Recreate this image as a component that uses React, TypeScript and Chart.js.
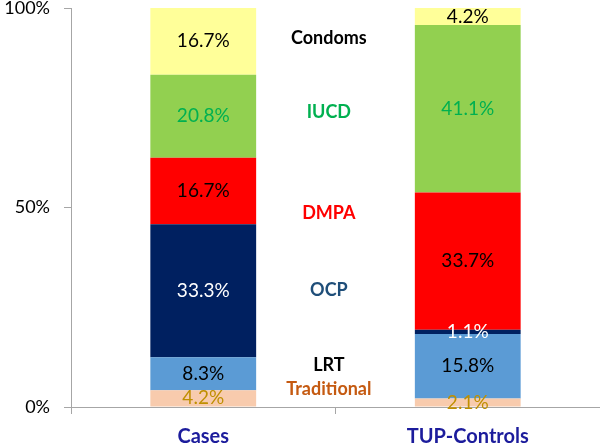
import React, { useEffect, useRef } from "react";
import { Chart, registerables } from "chart.js";

Chart.register(...registerables);

const categories = ["Cases", "TUP-Controls"];
const seriesNames = ["Traditional", "LRT", "OCP", "DMPA", "IUCD", "Condoms"];
const traditional = [4.2, 2.1];
const lrt = [8.3, 15.8];
const ocp = [33.3, 1.1];
const dmpa = [16.7, 33.7];
const iucd = [20.8, 41.1];
const condoms = [16.7, 4.2];
const yTicks = [0, 50, 100];

const seriesValues = [traditional, lrt, ocp, dmpa, iucd, condoms];
const fillColors = ["#f8cbad", "#5b9bd5", "#002060", "#ff0000", "#92d050", "#ffff99"];
const valueLabelColors = ["#bf8f00", "#000000", "#ffffff", "#000000", "#00b050", "#000000"];
const nameLabelColors = ["#c55a11", "#000000", "#1f4e79", "#ff0000", "#00b050", "#000000"];
// placement (in axis units) of the series name annotations between the bars
const nameLabelY = [4.5, 10.5, 29.3, 48.6, 73.9, 92.5];
const nameLabelX = 0.475;

const FONT = "Lato, 'Open Sans', sans-serif";

const labelsPlugin = {
  id: "segLabels",
  afterDatasetsDraw(chart: any) {
    const ctx = chart.ctx;
    ctx.save();
    ctx.textAlign = "center";
    ctx.textBaseline = "middle";
    ctx.font = `19px ${FONT}`;
    chart.data.datasets.forEach((ds: any, i: number) => {
      const meta = chart.getDatasetMeta(i);
      meta.data.forEach((el: any, j: number) => {
        const p = el.getCenterPoint();
        ctx.fillStyle = valueLabelColors[i];
        ctx.fillText(seriesValues[i][j].toFixed(1) + "%", p.x, p.y);
      });
    });
    const xs = chart.scales.x;
    const ys = chart.scales.y;
    const xMid = xs.getPixelForValue(nameLabelX);
    ctx.font = `bold 18px ${FONT}`;
    seriesNames.forEach((n, i) => {
      ctx.fillStyle = nameLabelColors[i];
      ctx.fillText(n, xMid, ys.getPixelForValue(nameLabelY[i]));
    });
    ctx.restore();
  },
};

export default function App() {
  const ref = useRef<HTMLCanvasElement>(null);
  useEffect(() => {
    document.body.style.margin = "0";
    const totals = categories.map((_, j) => seriesValues.reduce((s, arr) => s + arr[j], 0));
    const chart = new Chart(ref.current!, {
      type: "bar",
      data: {
        labels: categories,
        datasets: seriesNames.map((n, i) => ({
          label: n,
          data: seriesValues[i].map((v, j) => (v / totals[j]) * 100),
          backgroundColor: fillColors[i],
          borderWidth: 0,
          categoryPercentage: 1,
          barPercentage: 0.4,
        })),
      },
      options: {
        responsive: false,
        animation: false,
        layout: { padding: 0 },
        plugins: { legend: { display: false }, tooltip: { enabled: false } },
        scales: {
          x: {
            stacked: true,
            grid: { drawOnChartArea: false, offset: true, tickLength: 7, color: "#a6a6a6" },
            border: { color: "#a6a6a6" },
            ticks: { color: "#1c1c9c", font: { family: FONT, size: 20, weight: "bold" }, padding: 11 },
            afterFit: (s: any) => {
              s.height = 38;
            },
          },
          y: {
            stacked: true,
            min: 0,
            max: 100,
            afterBuildTicks: (s: any) => {
              s.ticks = yTicks.map((v) => ({ value: v }));
            },
            grid: { drawOnChartArea: false, tickLength: 7, color: "#a6a6a6" },
            border: { color: "#a6a6a6" },
            ticks: {
              color: "#000000",
              font: { family: FONT, size: 18 },
              padding: 14,
              callback: (v: any) => v + "%",
            },
            afterFit: (s: any) => {
              s.width = 71;
              s.paddingTop = 8;
              s.paddingBottom = 0;
            },
          },
        },
      },
      plugins: [labelsPlugin],
    });
    return () => chart.destroy();
  }, []);
  return <canvas ref={ref} width={600} height={445} />;
}
